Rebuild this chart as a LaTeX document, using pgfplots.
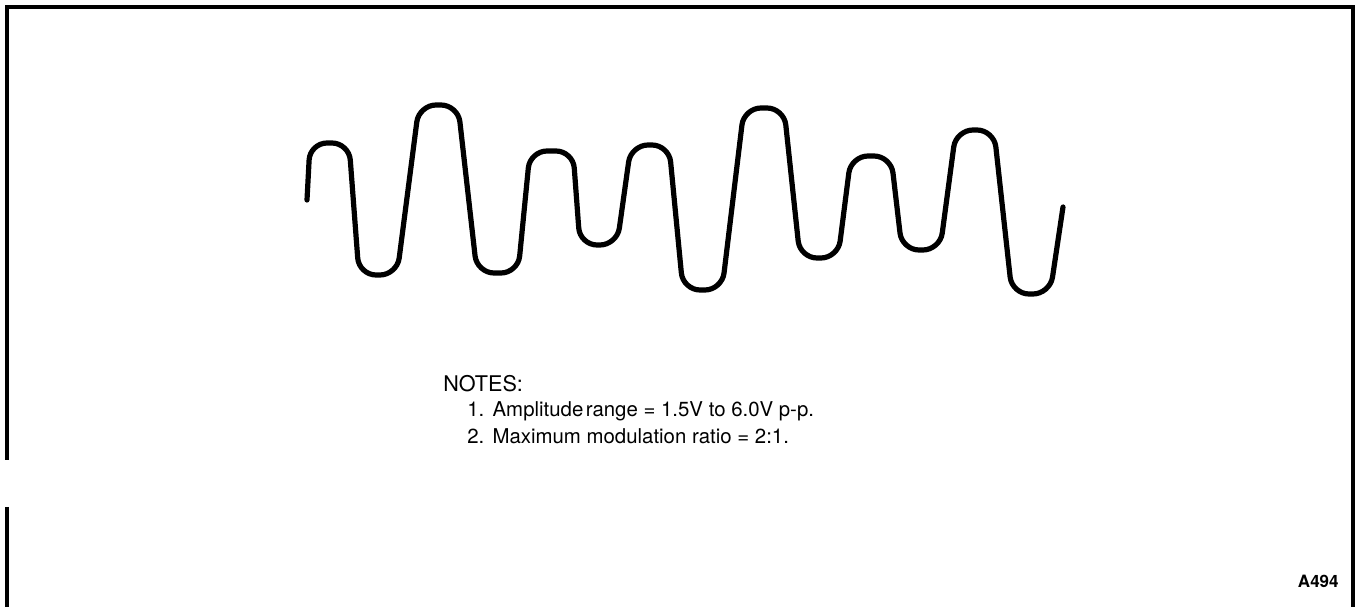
\documentclass[border=0pt]{standalone}
\usepackage{pgfplots}
\pgfplotsset{compat=1.18}
\usepackage{fontspec}
\setmainfont{TeX Gyre Heros}
\begin{document}
\begin{tikzpicture}
\begin{axis}[
  width=678.5pt, height=303.5pt, scale only axis,
  xmin=0, xmax=1357, ymin=0, ymax=607, y dir=reverse,
  hide axis, clip=false,
]
% invisible extent of the page
\addplot[draw=none] coordinates {(0,0) (1357,607)};
% frame
\addplot[black, line width=2pt, line join=miter] coordinates {(7,460) (7,7) (1353,7) (1353,607)};
\addplot[black, line width=2pt] coordinates {(7,507) (7,607)};
% waveform
\addplot[black, line width=2.6pt, rounded corners=8.5pt, line cap=round] coordinates {
 (307,200)
 (310,143) (349,143)
 (359,275) (397,275)
 (419,105) (458,105)
 (477,273) (518,273)
 (530,151) (573,151)
 (580,245) (617,245)
 (631,145) (669,145)
 (683,290) (722,290)
 (744,108) (784,108)
 (800,258) (838,258)
 (851,156) (891,156)
 (902,250) (940,250)
 (956,130) (994,130)
 (1012,294) (1050,294)
 (1063,207)
};
\node[anchor=base west, inner sep=0pt, font=\fontsize{10.8}{12}\selectfont] at (axis cs:443,392) {NOTES:};
\node[anchor=base west, inner sep=0pt, font=\fontsize{10.2}{12}\selectfont] at (axis cs:467,417) {1.\hspace{0.4em}Amplitude\hspace{0.12em}range = 1.5V to 6.0V p-p.};
\node[anchor=base west, inner sep=0pt, font=\fontsize{10.2}{12}\selectfont] at (axis cs:467,444) {2.\hspace{0.4em}Maximum modulation ratio = 2:1.};
\node[anchor=base east, inner sep=0pt, font=\fontsize{8.5}{10}\selectfont\bfseries] at (axis cs:1339,588) {A494};
\end{axis}
\end{tikzpicture}
\end{document}
